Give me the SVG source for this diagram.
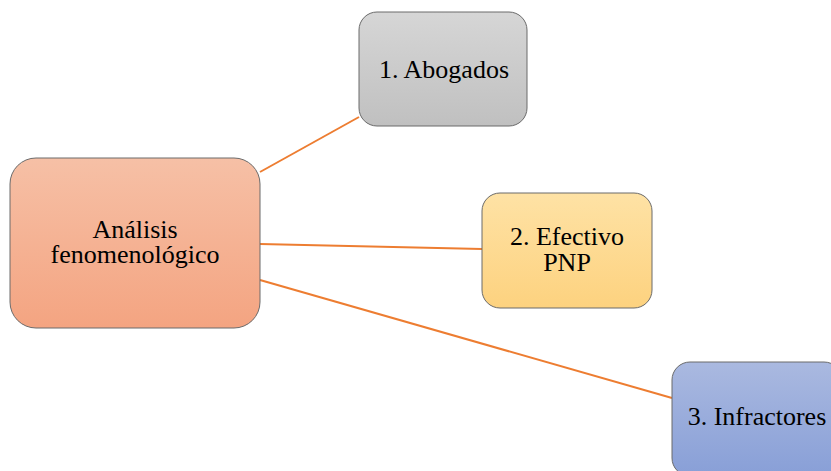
<svg xmlns="http://www.w3.org/2000/svg" width="831" height="471" viewBox="0 0 831 471">
  <defs>
    <linearGradient id="gMain" x1="0" y1="0" x2="0" y2="1">
      <stop offset="0" stop-color="#f6c0a6"/>
      <stop offset="1" stop-color="#f4a481"/>
    </linearGradient>
    <linearGradient id="gGray" x1="0" y1="0" x2="0" y2="1">
      <stop offset="0" stop-color="#d6d6d6"/>
      <stop offset="1" stop-color="#c0c0c0"/>
    </linearGradient>
    <linearGradient id="gGold" x1="0" y1="0" x2="0" y2="1">
      <stop offset="0" stop-color="#fee2a5"/>
      <stop offset="1" stop-color="#fdd27f"/>
    </linearGradient>
    <linearGradient id="gBlue" x1="0" y1="0" x2="0" y2="1">
      <stop offset="0" stop-color="#aab9e0"/>
      <stop offset="1" stop-color="#889fd7"/>
    </linearGradient>
  </defs>
  <style>
    .box { stroke: #6b6b6b; stroke-width: 1; }
    .lbl { fill: #000; text-anchor: middle; }
    .link { stroke: #ed7d31; stroke-width: 2; fill: none; }
  </style>
  <rect width="831" height="471" fill="#ffffff"/>

  <g id="connectors">
    <line class="link" x1="260" y1="172" x2="359" y2="117"/>
    <line class="link" x1="260" y1="244" x2="482" y2="249"/>
    <line class="link" x1="260" y1="280" x2="672" y2="398"/>
  </g>

  <g id="labels-font" font-family="Liberation Serif, Times New Roman, serif" font-size="26">
    <g id="node-analisis">
      <rect class="box" x="10" y="158" width="250" height="170" rx="26" fill="url(#gMain)"/>
      <text class="lbl" x="135" y="238">Análisis</text>
      <text class="lbl" x="135" y="263">fenomenológico</text>
    </g>

    <g id="node-abogados">
      <rect class="box" x="359" y="12" width="168" height="114" rx="18" fill="url(#gGray)"/>
      <text class="lbl" x="444" y="78">1. Abogados</text>
    </g>

    <g id="node-efectivo">
      <rect class="box" x="482" y="193" width="170" height="115" rx="18" fill="url(#gGold)"/>
      <text class="lbl" x="567" y="245">2. Efectivo</text>
      <text class="lbl" x="567" y="271">PNP</text>
    </g>

    <g id="node-infractores">
      <rect class="box" x="672" y="362" width="170" height="114" rx="18" fill="url(#gBlue)"/>
      <text class="lbl" x="757" y="425">3. Infractores</text>
    </g>
  </g>
</svg>
